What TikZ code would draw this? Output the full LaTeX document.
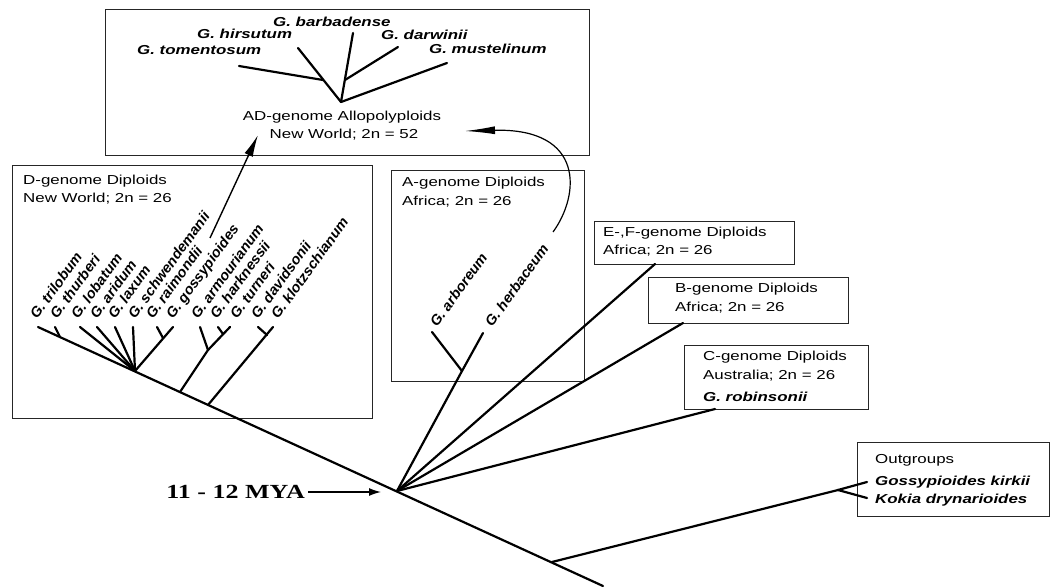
\documentclass[tikz,border=0pt]{standalone}
\usepackage{fontspec}
\setmainfont[FakeStretch=1.3]{Liberation Sans}
\newfontfamily\rotf[FakeStretch=1.02]{Liberation Sans}
\newfontfamily\serf[FakeStretch=1.3]{Liberation Serif}
\usetikzlibrary{arrows.meta}
\begin{document}
\begin{tikzpicture}[x=1pt,y=-1pt,
  lab/.style={font=\fontsize{13}{15}\selectfont, inner sep=0pt, anchor=west, text height=9.5pt, text depth=2.5pt},
  sp/.style={lab, font=\fontsize{13}{15}\selectfont\bfseries\itshape},
  rl/.style={inner sep=0pt, anchor=base west, rotate=54, font=\rotf\fontsize{14.3}{16}\selectfont\bfseries\itshape},
  box/.style={draw=black!85, line width=1.3pt, anchor=north west, inner sep=0pt},
  br/.style={line width=2.2pt, line cap=round},
  arr/.style={line width=1.4pt},
]
\fill[white] (0,0) rectangle (1051,588);
\useasboundingbox (0,0) rectangle (1051,588);

% ---------- boxes ----------
\node[box, minimum width=484pt, minimum height=146pt] (adbox) at (105,9) {};
\node[box, minimum width=360pt, minimum height=253pt] (dbox) at (12,165) {};
\node[box, minimum width=193pt, minimum height=211pt] (abox) at (391,170) {};
\node[box, minimum width=200pt, minimum height=43pt] (ebox) at (594,221) {};
\node[box, minimum width=200pt, minimum height=46pt] (bbox) at (648,277) {};
\node[box, minimum width=184pt, minimum height=64pt] (cbox) at (684,345) {};
\node[box, minimum width=192pt, minimum height=74pt] (obox) at (857,442) {};

% ---------- AD box ----------
\node[sp] (barb) at (273,23) {G. barbadense};
\node[sp] (hirs) at (197,35) {G. hirsutum};
\node[sp] (darw) at (381,36) {G. darwinii};
\node[sp] (tome) at (137,51) {G. tomentosum};
\node[sp] (must) at (429,50) {G. mustelinum};
\node[lab, anchor=center] (adt1) at (342,117) {AD-genome Allopolyploids};
\node[lab, anchor=center] (adt2) at (344,135) {New World; 2n = 52};

\coordinate (adR) at (341,102);
\coordinate (tHirs) at (298,48);
\coordinate (tTome) at (239,66);
\coordinate (jTome) at (323,80);
\coordinate (tBarb) at (353,33);
\coordinate (tDarw) at (398,47);
\coordinate (jDarw) at (345,80);
\coordinate (tMust) at (447,63);
\draw[br] (tHirs) -- (adR);
\draw[br] (tTome) -- (jTome);
\draw[br] (tBarb) -- (adR);
\draw[br] (tDarw) -- (jDarw);
\draw[br] (tMust) -- (adR);

% ---------- D box ----------
\node[lab] (dt1) at (23,181) {D-genome Diploids};
\node[lab] (dt2) at (23,199) {New World; 2n = 26};
\node[rl] (l1) at (37,320) {G. trilobum};
\node[rl] (l2) at (57,320) {G. thurberi};
\node[rl] (l3) at (78,320) {G. lobatum};
\node[rl] (l4) at (97,320) {G. aridum};
\node[rl] (l5) at (115,320) {G. laxum};
\node[rl] (l6) at (135,320) {G. schwendemanii};
\node[rl] (l7) at (153,320) {G. raimondii};
\node[rl] (l8) at (173,320) {G. gossypioides};
\node[rl] (l9) at (198,320) {G. armourianum};
\node[rl] (l10) at (217,320) {G. harknessii};
\node[rl] (l11) at (237,320) {G. turneri};
\node[rl] (l12) at (258,320) {G. davidsonii};
\node[rl] (l13) at (278,320) {G. klotzschianum};

% backbone and nodes
\coordinate (b0) at (38,327);
\coordinate (bEnd) at (603,586);
\coordinate (jThur) at (60,337);
\coordinate (P) at (135,371);
\coordinate (jArm) at (180,392);
\coordinate (jKlo) at (208,405);
\coordinate (M) at (397,491);
\coordinate (O) at (552,562);
\draw[br] (b0) -- (bEnd);

\coordinate (tThur) at (55,327);
\coordinate (tLob) at (80,327);
\coordinate (tAri) at (97,327);
\coordinate (tLax) at (115,327);
\coordinate (tSch) at (133,327);
\coordinate (tRai) at (157,327);
\coordinate (jRai) at (163,338);
\coordinate (tGos) at (173,327);
\coordinate (tArm) at (200,327);
\coordinate (A1) at (208,350);
\coordinate (tHar) at (218,327);
\coordinate (jHar) at (223,334);
\coordinate (tTur) at (230,327);
\coordinate (tDav) at (258,327);
\coordinate (jDav) at (267,335);
\coordinate (tKlo) at (273,327);
\draw[br] (tThur) -- (jThur);
\draw[br] (tLob) -- (P);
\draw[br] (tAri) -- (P);
\draw[br] (tLax) -- (P);
\draw[br] (tSch) -- (P);
\draw[br] (tGos) -- (P);
\draw[br] (tRai) -- (jRai);
\draw[br] (tArm) -- (A1);
\draw[br] (tTur) -- (A1) -- (jArm);
\draw[br] (tHar) -- (jHar);
\draw[br] (tKlo) -- (jKlo);
\draw[br] (tDav) -- (jDav);

% arrow raimondii -> AD
\coordinate (rTail) at (210,238);
\coordinate (rHead) at (258,135);
\draw[arr, -{Latex[length=22pt,width=9pt]}] (rTail) -- (rHead);

% ---------- A box ----------
\node[lab] (at1) at (402,183) {A-genome Diploids};
\node[lab] (at2) at (402,202) {Africa; 2n = 26};
\node[rl] (arb) at (437,328) {G. arboreum};
\node[rl] (her) at (492,328) {G. herbaceum};
\coordinate (tArb) at (432,332);
\coordinate (tHer) at (483,333);
\coordinate (nA) at (462,371);
\draw[br] (tArb) -- (nA);
\draw[br] (tHer) -- (nA) -- (M);

% curved arrow herbaceum -> AD
\coordinate (hTail) at (553,232);
\coordinate (hHead) at (465,131);
\draw[line width=1.2pt, -{Latex[length=30pt,width=8pt]}] (hTail) .. controls (580,195) and (585,128) .. (hHead);

% ---------- E, B, C boxes ----------
\node[lab] (et1) at (603,233) {E-,F-genome Diploids};
\node[lab] (et2) at (603,251) {Africa; 2n = 26};
\node[lab] (bt1) at (675,289) {B-genome Diploids};
\node[lab] (bt2) at (675,308) {Africa; 2n = 26};
\node[lab] (ct1) at (703,357) {C-genome Diploids};
\node[lab] (ct2) at (703,376) {Australia; 2n = 26};
\node[sp] (ct3) at (703,398) {G. robinsonii};
\coordinate (eEnd) at (655,264);
\coordinate (bbEnd) at (683,323);
\coordinate (cEnd) at (715,409);
\draw[br] (M) -- (eEnd);
\draw[br] (M) -- (bbEnd);
\draw[br] (M) -- (cEnd);

% ---------- outgroups ----------
\node[lab] (ot1) at (875,460) {Outgroups};
\node[sp] (ot2) at (875,482) {Gossypioides kirkii};
\node[sp] (ot3) at (875,500) {Kokia drynarioides};
\coordinate (nO) at (838,490);
\coordinate (tGk) at (867,482);
\coordinate (tKd) at (867,498);
\draw[br] (O) -- (nO);
\draw[br] (nO) -- (tGk);
\draw[br] (nO) -- (tKd);

% ---------- 11-12 MYA ----------
\node[inner sep=0pt, anchor=east, font=\serf\bfseries\fontsize{20}{24}\selectfont] (mya) at (305,492) {11 - 12 MYA};
\coordinate (myaTip) at (381,492);
\draw[line width=1.3pt, -{Latex[length=12pt,width=8pt]}] ([xshift=3pt]mya.east) -- (myaTip);
\end{tikzpicture}
\end{document}
